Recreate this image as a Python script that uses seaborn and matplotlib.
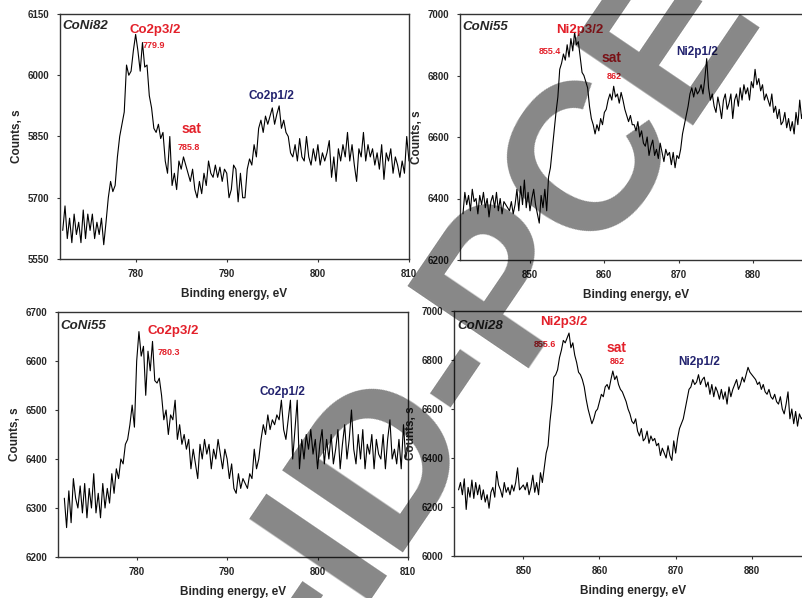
import numpy as np
import matplotlib
matplotlib.use("Agg")
import matplotlib.pyplot as plt
import seaborn as sns

# Co 2p spectrum, CoNi82 (772 - 810 eV, 0.25 eV step)
coni82_co2p = [
    5620, 5680, 5600, 5650, 5590, 5660, 5610, 5640, 5590, 5670, 5600, 5660,
    5620, 5660, 5600, 5640, 5610, 5650, 5585, 5640, 5700, 5740, 5715, 5730,
    5800, 5850, 5880, 5910, 6025, 6000, 6010, 6060, 6100, 6060, 6010, 6080,
    6020, 6025, 5950, 5920, 5870, 5860, 5880, 5845, 5860, 5790, 5760, 5850,
    5730, 5760, 5720, 5790, 5770, 5800, 5780, 5760, 5740, 5770, 5720, 5700,
    5740, 5710, 5760, 5730, 5790, 5760, 5750, 5780, 5750, 5775, 5740, 5770,
    5760, 5700, 5720, 5780, 5770, 5690, 5760, 5700, 5700, 5770, 5795, 5780,
    5830, 5800, 5870, 5890, 5860, 5900, 5880, 5900, 5920, 5880, 5905, 5925,
    5870, 5890, 5860, 5850, 5810, 5800, 5830, 5790, 5845, 5800, 5790, 5850,
    5800, 5780, 5820, 5790, 5830, 5780, 5810, 5790, 5810, 5840, 5750, 5800,
    5740, 5820, 5790, 5830, 5800, 5860, 5790, 5830, 5780, 5740, 5820, 5800,
    5860, 5790, 5830, 5800, 5820, 5780, 5810, 5770, 5830, 5745, 5810, 5790,
    5820, 5760, 5800, 5780, 5750, 5790, 5760, 5850, 5790,
]

# Ni 2p spectrum, CoNi55 (841 - 886.75 eV)
coni55_ni2p = [
    6350, 6420, 6380, 6410, 6360, 6430, 6390, 6400, 6350, 6410, 6380, 6420,
    6370, 6400, 6340, 6390, 6410, 6370, 6420, 6360, 6400, 6350, 6390, 6380,
    6370, 6360, 6390, 6350, 6380, 6430, 6360, 6440, 6380, 6460, 6370, 6420,
    6360, 6400, 6430, 6380, 6350, 6320, 6410, 6370, 6430, 6360, 6470, 6500,
    6560, 6620, 6680, 6730, 6820, 6840, 6870, 6850, 6900, 6860, 6920, 6880,
    6940, 6900, 6910, 6860, 6810, 6800, 6780, 6760, 6700, 6660, 6640, 6610,
    6640, 6620, 6660, 6640, 6680, 6690, 6720, 6740, 6720, 6765, 6730, 6740,
    6710, 6745, 6720, 6690, 6670, 6650, 6670, 6640, 6640, 6620, 6650, 6600,
    6620, 6580, 6570, 6600, 6540, 6570, 6590, 6540, 6560, 6530, 6580, 6550,
    6520, 6560, 6540, 6550, 6510, 6550, 6500, 6540, 6530, 6560, 6610, 6640,
    6670, 6700, 6740, 6760, 6730, 6760, 6740, 6750, 6770, 6740, 6790, 6855,
    6760, 6720, 6740, 6700, 6680, 6730, 6700, 6660, 6720, 6740, 6690, 6710,
    6740, 6660, 6720, 6740, 6700, 6760, 6720, 6770, 6740, 6760, 6720, 6780,
    6760, 6820, 6770, 6790, 6750, 6770, 6720, 6740, 6720, 6700, 6740, 6680,
    6700, 6660, 6690, 6640, 6650, 6680, 6630, 6660, 6620, 6650, 6610, 6680,
    6640, 6720, 6660, 6690,
]

# Co 2p spectrum, CoNi55 (772 - 810 eV)
coni55_co2p = [
    6320, 6260, 6335, 6270, 6360, 6320, 6300, 6345, 6290, 6350, 6280, 6340,
    6300, 6370, 6290, 6330, 6280, 6350, 6300, 6340, 6310, 6370, 6330, 6380,
    6360, 6400, 6390, 6430, 6440, 6470, 6510, 6465, 6600, 6660, 6610, 6630,
    6530, 6620, 6580, 6640, 6560, 6555, 6565, 6530, 6480, 6500, 6450, 6490,
    6480, 6520, 6440, 6470, 6430, 6450, 6420, 6440, 6380, 6420, 6390, 6360,
    6430, 6400, 6440, 6410, 6430, 6380, 6420, 6400, 6440, 6410, 6380, 6420,
    6400, 6360, 6390, 6340, 6330, 6370, 6340, 6360, 6350, 6340, 6370, 6360,
    6420, 6380, 6400, 6440, 6470, 6450, 6490, 6460, 6480, 6470, 6490, 6480,
    6520, 6460, 6440, 6480, 6520, 6400, 6460, 6520, 6380, 6440, 6400, 6450,
    6420, 6460, 6410, 6440, 6380, 6430, 6460, 6390, 6440, 6400, 6450, 6390,
    6420, 6460, 6380, 6430, 6470, 6400, 6440, 6500, 6420, 6390, 6450, 6400,
    6460, 6380, 6430, 6410, 6450, 6380, 6440, 6410, 6400, 6450, 6380, 6440,
    6480, 6400, 6420, 6390, 6440, 6380, 6470, 6400, 6430,
]

# Ni 2p spectrum, CoNi28 (841.5 - 886.75 eV)
coni28_ni2p = [
    6270, 6300, 6250, 6315, 6190, 6280, 6240, 6310, 6235, 6300, 6250, 6290,
    6230, 6270, 6220, 6250, 6195, 6260, 6280, 6240, 6345, 6290, 6270, 6240,
    6300, 6260, 6280, 6250, 6290, 6265, 6300, 6360, 6270, 6280, 6290, 6270,
    6300, 6250, 6280, 6330, 6260, 6300, 6250, 6340, 6300, 6360, 6420, 6450,
    6550, 6620, 6730, 6740, 6760, 6810, 6840, 6880, 6870, 6890, 6910, 6850,
    6870, 6820, 6790, 6750, 6740, 6720, 6690, 6640, 6600, 6570, 6540, 6560,
    6590, 6600, 6630, 6660, 6650, 6690, 6700, 6680, 6720, 6755, 6720, 6735,
    6700, 6680, 6670, 6650, 6630, 6600, 6580, 6550, 6540, 6560, 6510, 6490,
    6520, 6470, 6480, 6510, 6460, 6490, 6470, 6480, 6450, 6460, 6410, 6440,
    6420, 6400, 6450, 6410, 6390, 6470, 6420, 6480, 6520, 6540, 6560, 6600,
    6640, 6680, 6690, 6720, 6700, 6710, 6740, 6700, 6720, 6730, 6690, 6710,
    6660, 6700, 6650, 6690, 6670, 6640, 6680, 6640, 6670, 6620, 6690, 6650,
    6680, 6700, 6720, 6680, 6700, 6730, 6710, 6740, 6770, 6750, 6740, 6730,
    6720, 6700, 6710, 6680, 6700, 6670, 6660, 6680, 6650, 6640, 6660, 6630,
    6620, 6650, 6600, 6580, 6620, 6670, 6560, 6600, 6540, 6590, 6530, 6580,
    6560, 6570,
]

co_ticks = [780, 790, 800, 810]
ni_ticks = [850, 860, 870, 880]

RED = "#e3202a"
NAVY = "#22226e"

sns.set_style("ticks")
plt.rcParams["font.family"] = ["Liberation Sans", "DejaVu Sans"]

W, H = 803, 598
fig = plt.figure(figsize=(W / 100, H / 100), dpi=100)


def add_panel(rect_px, energy, counts, xlim, ylim, yticks, xticks, name, name_off, notes):
    left, top, right, bottom = rect_px
    ax = fig.add_axes([left / W, 1 - bottom / H, (right - left) / W, (bottom - top) / H])
    sns.lineplot(x=energy, y=counts, ax=ax, color="black", linewidth=0.8,
                 sort=False, estimator=None)
    ax.set_xlim(*xlim)
    ax.set_ylim(*ylim)
    ax.set_xticks(xticks)
    ax.set_yticks(yticks)
    ax.tick_params(length=2.5, width=0.8, labelsize=7, color="#333333")
    ax.tick_params(axis="y", pad=5)
    ax.tick_params(axis="x", pad=5)
    for lab in ax.get_xticklabels() + ax.get_yticklabels():
        lab.set_fontweight("bold")
    for sp in ax.spines.values():
        sp.set_visible(True)
        sp.set_linewidth(1.0)
        sp.set_color("#333333")
    ax.set_xlabel("Binding energy, eV", fontsize=8.5, fontweight="bold", labelpad=6)
    ax.set_ylabel("Counts, s", fontsize=8.5, fontweight="bold", labelpad=3.5)
    ax.text(0.008, 1 - name_off / (bottom - top), name, transform=ax.transAxes,
            ha="left", va="top", fontsize=9.5, fontweight="bold", style="italic")
    for tx, ty, s, size, col in notes:
        ax.text(tx, ty, s, ha="center", va="center", fontsize=size,
                fontweight="bold", color=col)
    return ax


add_panel((60, 14, 409, 259), np.linspace(772, 810, len(coni82_co2p)), coni82_co2p,
          (771.7, 810), (5550, 6150), [5550, 5700, 5850, 6000, 6150], co_ticks,
          "CoNi82", 6,
          [(782.2, 6112, "Co2p3/2", 9.5, RED), (782.0, 6072, "779.9", 6.5, RED),
           (786.1, 5868, "sat", 10, RED), (785.8, 5822, "785.8", 6.5, RED),
           (794.9, 5948, "Co2p1/2", 8.5, NAVY)])

add_panel((460, 14, 812, 260), np.linspace(841, 886.75, len(coni55_ni2p)), coni55_ni2p,
          (840.6, 887.9), (6200, 7000), [6200, 6400, 6600, 6800, 7000], ni_ticks,
          "CoNi55", 7,
          [(856.7, 6949, "Ni2p3/2", 9.5, RED), (852.7, 6879, "855.4", 6.5, RED),
           (861.0, 6857, "sat", 10, RED), (861.3, 6797, "862", 6.5, RED),
           (872.5, 6878, "Ni2p1/2", 8.5, NAVY)])

add_panel((58, 312, 408, 557), np.linspace(772, 810, len(coni55_co2p)), coni55_co2p,
          (771.3, 810), (6200, 6700), [6200, 6300, 6400, 6500, 6600, 6700], co_ticks,
          "CoNi55", 8,
          [(784.0, 6661, "Co2p3/2", 9.5, RED), (783.6, 6618, "780.3", 6.5, RED),
           (796.1, 6537, "Co2p1/2", 8.5, NAVY)])

add_panel((454, 311, 812, 556), np.linspace(841.5, 886.75, len(coni28_ni2p)), coni28_ni2p,
          (840.9, 887.9), (6000, 7000), [6000, 6200, 6400, 6600, 6800, 7000], ni_ticks,
          "CoNi28", 9,
          [(855.3, 6956, "Ni2p3/2", 9.5, RED), (852.8, 6863, "855.6", 6.5, RED),
           (862.2, 6848, "sat", 10, RED), (862.3, 6792, "862", 6.5, RED),
           (873.1, 6792, "Ni2p1/2", 8.5, NAVY)])

# diagonal watermark across the figure
fig.text(320 / W, 1 - 663 / H, "-ID-PCE", rotation=55.8, rotation_mode="anchor",
         ha="left", va="baseline", fontsize=152, fontweight="bold",
         color="black", alpha=0.47, zorder=100)

fig.savefig("out.png", dpi=100)
